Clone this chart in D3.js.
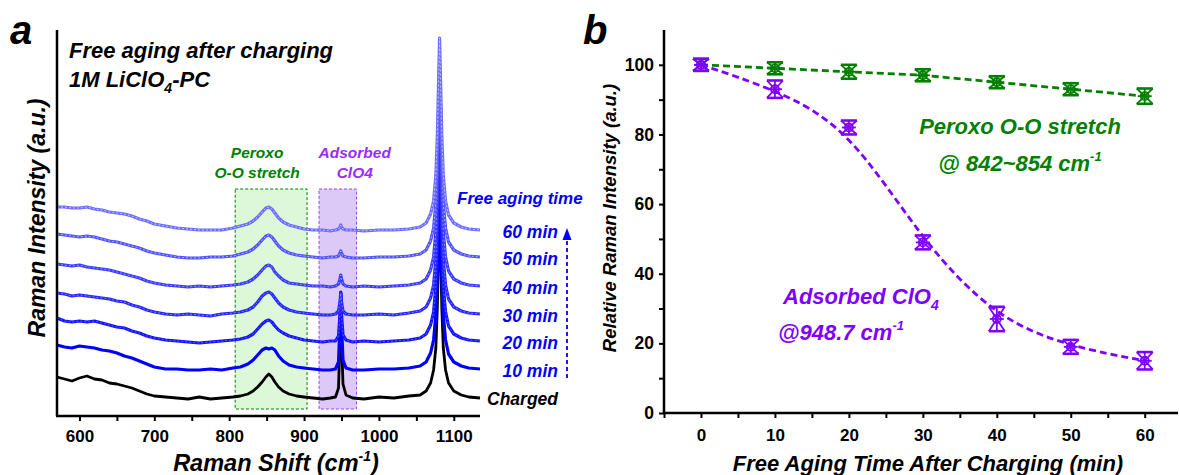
<!DOCTYPE html>
<html>
<head>
<meta charset="utf-8">
<script src="https://cdn.jsdelivr.net/npm/d3@7"></script>
<style>
  body { margin: 0; background: #fff; }
  svg text { font-family: Arial, "Liberation Sans", sans-serif; font-weight: bold; }
</style>
</head>
<body>
<svg id="chart" width="1179" height="475"></svg>
<script>
// ---- panel a : stacked Raman spectra (intensity above each trace's own baseline) ----
const shift = [570,580,590,600,610,620,630,640,650,660,670,680,690,700,715,730,745,760,775,790,
  805,815,825,832,838,844,849,853,857,861,866,872,880,890,900,912,925,935,942,946,
  948,949,950,952,956,965,980,1000,1020,1040,1055,1063,1069,1073,1076,1078,1080,1081,1082,1084,
  1086,1089,1093,1100,1110,1120,1135];

const charged = [21,19,17,20,22,19,18,15,14,12, 10,7,4,2,1,0,-1,1,-1,0,
  1,2,4,7,11,16,21,24,21,16, 11,7,4,2,1,0,-1,0,1,10,
  60,105,60,14,3,0,-1,1,0,2, 3,7,15,28,50,90,160,200,160,90, 50,28,15,7,3,1,0];
const min10 = [25,23,22,24,23,22,20,19,17,14, 12,9,6,3,1,1,0,0,1,0,
  2,3,6,10,15,20,22,21,22,20, 14,9,5,3,2,1,0,0,1,8,
  45,78,45,10,2,0,0,1,1,2, 4,8,17,30,55,95,160,193,160,95, 55,30,16,8,4,2,1];
const min20 = [24,21,20,21,20,21,19,17,15,14, 11,9,6,4,2,1,0,-1,0,1,
  2,3,5,8,13,18,21,22,20,16, 12,9,6,4,2,1,0,1,1,6,
  28,48,28,7,2,0,1,0,1,2, 4,8,17,30,55,95,160,193,160,95, 55,30,16,8,4,2,1];
const min30 = [22,21,19,20,19,18,17,16,14,13, 10,8,5,3,1,0,1,0,-1,1,
  2,3,5,8,13,19,22,23,21,17, 12,8,5,3,2,1,0,0,1,4,
  13,22,13,4,1,0,0,1,0,2, 4,8,17,30,55,95,160,193,160,95, 55,30,16,8,4,2,1];
const min40 = [23,22,21,22,20,19,18,17,15,13, 11,9,6,4,2,1,0,1,0,1,
  2,3,5,8,12,17,21,22,20,15, 11,7,4,3,2,1,1,0,1,3,
  8,12,8,3,1,0,1,0,1,2, 4,8,17,30,55,95,160,193,160,95, 55,30,16,8,4,2,1];
const min50 = [24,23,22,21,22,21,19,17,16,14, 12,10,7,5,3,1,0,0,1,1,
  2,4,6,9,13,18,22,23,21,17, 12,8,5,3,2,1,0,1,1,2,
  5,7,5,2,1,0,0,1,1,2, 4,8,17,30,55,95,160,193,160,95, 55,30,16,8,4,2,1];
const min60 = [24,24,23,23,24,22,21,19,18,17, 15,12,10,7,5,3,2,1,1,1,
  3,5,7,10,14,19,23,24,22,18, 13,9,6,4,2,1,1,0,1,2,
  4,6,4,2,1,1,0,1,1,2, 4,8,17,30,55,95,160,193,160,95, 55,30,16,8,4,2,1];

const traceNames = ["Charged", "10 min", "20 min", "30 min", "40 min", "50 min", "60 min"];
const traceOffsets = [18, 46, 74, 101, 129, 158, 185];
const spectra = [charged, min10, min20, min30, min40, min50, min60];

const shiftTicks = [600, 700, 800, 900, 1000, 1100];
const peroxoBand = [808, 904];
const adsorbedBand = [920, 970];
const bandHeight = [7, 227];

// ---- panel b : relative intensity vs aging time ----
const agingTime = [0, 10, 20, 30, 40, 50, 60];
const peroxoRel = [100, 99, 98, 97, 95, 93, 91];
const peroxoErr = [0.6, 1, 2, 1, 1, 1, 2.2];
const clo4Rel = [100, 93, 82, 49, 27, 19, 15];
const clo4Err = [0.6, 2.5, 2, 2, 3.5, 2, 2.5];
const timeTicks = [0, 10, 20, 30, 40, 50, 60];
const relTicks = [0, 20, 40, 60, 80, 100];

// styles
const traceColor = ["#000000", "#0000ff", "#1212ff", "#2626ff", "#3a3aff", "#5252ff", "#6c6cff"];
const traceBead = [0, 0, 0.3, 0.4, 0.45, 0.55, 0.6];
const green = "#008000";
const violet = "#8000ff";
const blue = "#0000ff";
const FONT = "Arial, 'Liberation Sans', sans-serif";

const svg = d3.select("#chart");

// ================= panel a =================
const xa = d3.scaleLinear().domain([570, 1135]).range([57, 480]);
const ya = d3.scaleLinear().domain([0, 386]).range([416, 30]);

const ga = svg.append("g");

// highlighted bands
ga.append("rect")
  .attr("x", xa(peroxoBand[0])).attr("y", ya(bandHeight[1]))
  .attr("width", xa(peroxoBand[1]) - xa(peroxoBand[0]))
  .attr("height", ya(bandHeight[0]) - ya(bandHeight[1]))
  .attr("fill", "#dcf8d8").attr("stroke", green).attr("stroke-width", 1)
  .attr("stroke-dasharray", "3,2");
ga.append("rect")
  .attr("x", xa(adsorbedBand[0])).attr("y", ya(bandHeight[1]))
  .attr("width", xa(adsorbedBand[1]) - xa(adsorbedBand[0]))
  .attr("height", ya(bandHeight[0]) - ya(bandHeight[1]))
  .attr("fill", "#dcc9f8").attr("stroke", "#9a40ff").attr("stroke-width", 1)
  .attr("stroke-dasharray", "3,2");

// spectra
spectra.forEach((vals, i) => {
  const pts = shift.map((s, j) => [s, vals[j] + traceOffsets[i]]);
  const line = d3.line().x(d => xa(d[0])).y(d => ya(d[1]));
  ga.append("path").attr("d", line(pts))
    .attr("fill", "none").attr("stroke", traceColor[i])
    .attr("stroke-width", i === 0 ? 2.8 : 3.2).attr("stroke-linejoin", "round");
  if (traceBead[i] > 0) {
    ga.append("path").attr("d", line(pts))
      .attr("fill", "none").attr("stroke", "#fff").attr("stroke-opacity", traceBead[i])
      .attr("stroke-width", 1).attr("stroke-dasharray", "2,2");
  }
});

// axes a
ga.append("line").attr("x1", xa(570)).attr("x2", xa(570)).attr("y1", 30).attr("y2", ya(0))
  .attr("stroke", "#000").attr("stroke-width", 2.5);
ga.append("line").attr("x1", xa(570) - 1).attr("x2", xa(1135)).attr("y1", ya(0)).attr("y2", ya(0))
  .attr("stroke", "#000").attr("stroke-width", 2.5);
const xAxisA = ga.append("g").attr("transform", `translate(0,${ya(0)})`)
  .call(d3.axisBottom(xa).tickValues(d3.range(600, 1135, 50)).tickSize(5).tickFormat(d => shiftTicks.includes(d) ? d : ""));
xAxisA.select(".domain").remove();
xAxisA.selectAll(".tick line").attr("stroke-width", 2);
xAxisA.selectAll(".tick text").attr("font-size", 17).attr("dy", "1.05em")
  .attr("font-family", FONT).attr("fill", "#000");

ga.append("text").attr("x", 276).attr("y", 471).attr("text-anchor", "middle")
  .attr("font-size", 23.5).attr("font-style", "italic")
  .call(t => {
    t.append("tspan").text("Raman Shift (cm");
    t.append("tspan").text("-1").attr("font-size", 14).attr("dy", -10);
    t.append("tspan").text(")").attr("dy", 10);
  });
ga.append("text").attr("transform", "translate(45,218) rotate(-90)").attr("text-anchor", "middle")
  .attr("font-size", 23).attr("font-style", "italic").text("Raman Intensity (a.u.)");

ga.append("text").attr("x", 10).attr("y", 44).attr("font-size", 40).attr("font-style", "italic").text("a");
ga.append("text").attr("x", 69).attr("y", 58).attr("font-size", 22).attr("font-style", "italic")
  .text("Free aging after charging");
ga.append("text").attr("x", 69).attr("y", 87).attr("font-size", 22).attr("font-style", "italic")
  .call(t => {
    t.append("tspan").text("1M LiClO");
    t.append("tspan").text("4").attr("font-size", 14).attr("dy", 6);
    t.append("tspan").text("-PC").attr("dy", -6);
  });

// band labels
const peroxoMid = xa((peroxoBand[0] + peroxoBand[1]) / 2) - 14;
ga.append("text").attr("x", peroxoMid).attr("y", 158).attr("text-anchor", "middle")
  .attr("font-size", 15.5).attr("font-style", "italic").attr("fill", green).text("Peroxo");
ga.append("text").attr("x", peroxoMid).attr("y", 178).attr("text-anchor", "middle")
  .attr("font-size", 15.5).attr("font-style", "italic").attr("fill", green).text("O-O stretch");
const adsMid = xa((adsorbedBand[0] + adsorbedBand[1]) / 2) + 17;
ga.append("text").attr("x", adsMid).attr("y", 158).attr("text-anchor", "middle")
  .attr("font-size", 15.5).attr("font-style", "italic").attr("fill", "#9a2bff").text("Adsorbed");
ga.append("text").attr("x", adsMid).attr("y", 178).attr("text-anchor", "middle")
  .attr("font-size", 15.5).attr("font-style", "italic").attr("fill", "#9a2bff").text("ClO4");

// trace labels
traceNames.forEach((name, i) => {
  ga.append("text").attr("x", 558).attr("y", ya(traceOffsets[i]) + 7).attr("text-anchor", "end")
    .attr("font-size", 17.5).attr("font-style", "italic")
    .attr("fill", i === 0 ? "#000" : blue).text(name);
});
ga.append("text").attr("x", 457).attr("y", ya(traceOffsets[6]) - 27)
  .attr("font-size", 17).attr("font-style", "italic").attr("fill", blue).text("Free aging time");

// dashed arrow
const arrowX = 567;
const arrowTop = ya(traceOffsets[6]) - 3;
ga.append("line").attr("x1", arrowX).attr("x2", arrowX)
  .attr("y1", ya(traceOffsets[1]) + 8).attr("y2", arrowTop + 8)
  .attr("stroke", blue).attr("stroke-width", 1.8).attr("stroke-dasharray", "4,3");
ga.append("path").attr("d", `M${arrowX},${arrowTop} L${arrowX - 4.5},${arrowTop + 12} L${arrowX + 4.5},${arrowTop + 12} Z`)
  .attr("fill", blue);

// ================= panel b =================
const xb = d3.scaleLinear().domain([-5, 64.5]).range([664, 1178]);
const yb = d3.scaleLinear().domain([0, 110]).range([413, 30]);
const gb = svg.append("g");

gb.append("line").attr("x1", xb(-5)).attr("x2", xb(-5)).attr("y1", yb(110)).attr("y2", yb(0))
  .attr("stroke", "#000").attr("stroke-width", 2.5);
gb.append("line").attr("x1", xb(-5) - 1).attr("x2", xb(64.5)).attr("y1", yb(0)).attr("y2", yb(0))
  .attr("stroke", "#000").attr("stroke-width", 2.5);

const yAxisB = gb.append("g").attr("transform", `translate(${xb(-5)},0)`)
  .call(d3.axisLeft(yb).tickValues(d3.range(0, 101, 10)).tickSize(5).tickFormat(d => relTicks.includes(d) ? d : ""));
yAxisB.select(".domain").remove();
yAxisB.selectAll(".tick line").attr("stroke-width", 2);
yAxisB.selectAll(".tick text").attr("font-size", 17.5).attr("x", -10)
  .attr("font-family", FONT).attr("fill", "#000");

const xAxisB = gb.append("g").attr("transform", `translate(0,${yb(0)})`)
  .call(d3.axisBottom(xb).tickValues(d3.range(-5, 61, 5)).tickSize(5).tickFormat(d => timeTicks.includes(d) ? d : ""));
xAxisB.select(".domain").remove();
xAxisB.selectAll(".tick line").attr("stroke-width", 2);
xAxisB.selectAll(".tick text").attr("font-size", 17).attr("dy", "1.2em")
  .attr("font-family", FONT).attr("fill", "#000");

gb.append("text").attr("x", 928).attr("y", 471).attr("text-anchor", "middle")
  .attr("font-size", 22).attr("font-style", "italic").text("Free Aging Time After Charging (min)");
gb.append("text").attr("transform", "translate(616,218) rotate(-90)").attr("text-anchor", "middle")
  .attr("font-size", 18.5).attr("font-style", "italic").text("Relative Raman Intensity (a.u.)");
gb.append("text").attr("x", 583).attr("y", 44).attr("font-size", 40).attr("font-style", "italic").text("b");

// series lines
const peroxoPts = agingTime.map((t, i) => [t, peroxoRel[i]]);
const clo4Pts = agingTime.map((t, i) => [t, clo4Rel[i]]);
gb.append("path")
  .attr("d", d3.line().x(d => xb(d[0])).y(d => yb(d[1]))(peroxoPts))
  .attr("fill", "none").attr("stroke", green).attr("stroke-width", 2.8).attr("stroke-dasharray", "7,4");
gb.append("path")
  .attr("d", d3.line().x(d => xb(d[0])).y(d => yb(d[1])).curve(d3.curveBasis)(clo4Pts))
  .attr("fill", "none").attr("stroke", violet).attr("stroke-width", 2.8).attr("stroke-dasharray", "7,4");

// markers: error bar hourglass + asterisk + ring
function drawMarkers(vals, errs, color) {
  vals.forEach((v, i) => {
    const g = gb.append("g").attr("stroke", color).attr("fill", "none").attr("stroke-width", 1.8);
    const cx = xb(agingTime[i]);
    const cy = yb(v);
    const hi = Math.min(yb(v + errs[i]), cy - 6);
    const lo = Math.max(yb(v - errs[i]), cy + 6);
    const w = 8;
    g.append("line").attr("x1", cx - w).attr("x2", cx + w).attr("y1", hi).attr("y2", hi).attr("stroke-width", 2.6);
    g.append("line").attr("x1", cx - w).attr("x2", cx + w).attr("y1", lo).attr("y2", lo).attr("stroke-width", 2.6);
    g.append("line").attr("x1", cx - w).attr("x2", cx + w).attr("y1", hi).attr("y2", lo);
    g.append("line").attr("x1", cx + w).attr("x2", cx - w).attr("y1", hi).attr("y2", lo);
    g.append("line").attr("x1", cx).attr("x2", cx).attr("y1", hi).attr("y2", lo);
    g.append("line").attr("x1", cx - 7).attr("x2", cx + 7).attr("y1", cy).attr("y2", cy);
    g.append("circle").attr("cx", cx).attr("cy", cy).attr("r", 4);
  });
}
drawMarkers(peroxoRel, peroxoErr, green);
drawMarkers(clo4Rel, clo4Err, violet);

// series labels
gb.append("text").attr("x", 1020).attr("y", 134).attr("text-anchor", "middle")
  .attr("font-size", 22).attr("font-style", "italic").attr("fill", green).text("Peroxo O-O stretch");
gb.append("text").attr("x", 1020).attr("y", 171).attr("text-anchor", "middle")
  .attr("font-size", 22).attr("font-style", "italic").attr("fill", green)
  .call(t => {
    t.append("tspan").text("@ 842~854 cm");
    t.append("tspan").text("-1").attr("font-size", 13).attr("dy", -10);
  });
gb.append("text").attr("x", 783).attr("y", 304)
  .attr("font-size", 22).attr("font-style", "italic").attr("fill", violet)
  .call(t => {
    t.append("tspan").text("Adsorbed ClO");
    t.append("tspan").text("4").attr("font-size", 14).attr("dy", 6);
  });
gb.append("text").attr("x", 778).attr("y", 340)
  .attr("font-size", 22).attr("font-style", "italic").attr("fill", violet)
  .call(t => {
    t.append("tspan").text("@948.7 cm");
    t.append("tspan").text("-1").attr("font-size", 13).attr("dy", -10);
  });
</script>
</body>
</html>
